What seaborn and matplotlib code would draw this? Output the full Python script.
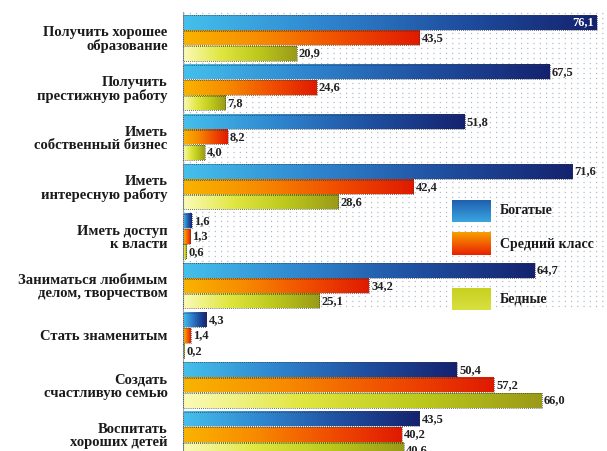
import numpy as np
import pandas as pd
import seaborn as sns
import matplotlib.pyplot as plt
from matplotlib.colors import LinearSegmentedColormap


goals = [
    "Получить хорошее\nобразование",
    "Получить\nпрестижную работу",
    "Иметь\nсобственный бизнес",
    "Иметь\nинтересную работу",
    "Иметь доступ\nк власти",
    "Заниматься любимым\nделом, творчеством",
    "Стать знаменитым",
    "Создать\nсчастливую семью",
    "Воспитать\nхороших детей",
]
groups = ["Богатые", "Средний класс", "Бедные"]
rich = [76.1, 67.5, 51.8, 71.6, 1.6, 64.7, 4.3, 50.4, 43.5]
middle = [43.5, 24.6, 8.2, 42.4, 1.3, 34.2, 1.4, 57.2, 40.2]
poor = [20.9, 7.8, 4.0, 28.6, 0.6, 25.1, 0.2, 66.0, 40.6]

gradients = {
    "Богатые": ["#45c0ec", "#2f86cf", "#1f4fa0", "#14226e"],
    "Средний класс": ["#f9b400", "#f78a00", "#f04e00", "#e01a00"],
    "Бедные": ["#fbfbb8", "#e0e640", "#bcc81c", "#9a9a18"],
}


def gradient_image(ax, extent, colors, transform=None, vertical=False):
    """Paints a gradient inside the rectangle given by extent"""
    cmap = LinearSegmentedColormap.from_list("g", colors)
    grad = np.linspace(0, 1, 256).reshape(1, -1)
    if vertical:
        grad = grad.T
    kw = {} if transform is None else {"transform": transform}
    ax.imshow(grad, cmap=cmap, extent=extent, aspect="auto",
              interpolation="bilinear", zorder=2, **kw)


def build_frame() -> pd.DataFrame:
    rows = []
    for name, vals in zip(groups, [rich, middle, poor]):
        for goal, v in zip(goals, vals):
            rows.append({"goal": goal, "group": name, "value": v})
    return pd.DataFrame(rows)


sns.set_theme(style="white")
plt.rcParams["font.family"] = ["Liberation Serif", "DejaVu Serif"]

data = build_frame()
fig = plt.figure(figsize=(6.07, 4.51), dpi=100)
ax = fig.add_axes([183 / 607, 0.0, 424 / 607, 1 - 12 / 451])

sns.barplot(data=data, y="goal", x="value", hue="group", orient="h",
            width=0.93, gap=0.06, palette=["#2f86cf", "#f04e00", "#bcc81c"],
            saturation=1, legend=False, ax=ax)

# dotted background in the upper part
for yy in np.arange(-0.5, 5.45, 0.1):
    ax.axhline(yy, color="#aab6c8", lw=0.9, ls=(0, (0.9, 4.1)), zorder=0)

for name, container in zip(groups, ax.containers):
    for bar in container:
        x0, y0 = bar.get_x(), bar.get_y()
        w, h = bar.get_width(), bar.get_height()
        gradient_image(ax, (x0, x0 + w, y0 + h, y0), gradients[name])
        bar.set_facecolor("none")
        bar.set_edgecolor("#3a3a3a")
        bar.set_linestyle((0, (1, 1.5)))
        bar.set_linewidth(0.6)
        bar.set_zorder(3)
        label = f"{w:.1f}".replace(".", ",")
        yc = y0 + h / 2
        if w > 74:
            ax.text(x0 + w - 0.4, yc, label, ha="right", va="center",
                    fontsize=9, color="white", fontweight="bold", zorder=4)
        else:
            ax.text(x0 + w + 0.4, yc, label, ha="left", va="center",
                    fontsize=9, color="#222222", fontweight="bold", zorder=4)

ax.set_xlim(0, 78)
ax.set_ylim(8.33, -0.524)
ax.set_yticks(range(len(goals)))
ax.set_yticklabels(goals, fontsize=10.5, fontweight="bold",
                   linespacing=1.0, color="#1a1a1a")
ax.tick_params(axis="y", length=0, pad=11)
ax.set_xticks([])
ax.set_xlabel("")
ax.set_ylabel("")
for side in ["top", "right", "bottom"]:
    ax.spines[side].set_visible(False)
ax.spines["left"].set_color("#9aa4b0")
ax.spines["left"].set_linewidth(0.8)

# legend boxes
legend_pos = [(0.572, 0.522), (0.497, 0.446), (0.371, 0.321)]
legend_cols = {
    "Богатые": ["#1f5fb0", "#3aa6e0"],
    "Средний класс": ["#f9a000", "#e82000"],
    "Бедные": ["#c8d020", "#d8e040"],
}
for name, (top, bottom) in zip(groups, legend_pos):
    gradient_image(ax, (0.634, 0.724, bottom, top), legend_cols[name],
                   transform=ax.transAxes, vertical=True)
    ax.text(0.748, (top + bottom) / 2, name, transform=ax.transAxes,
            ha="left", va="center", fontsize=10, fontweight="bold",
            color="#1a1a1a", zorder=4)

fig.savefig("out.png", dpi=100)
